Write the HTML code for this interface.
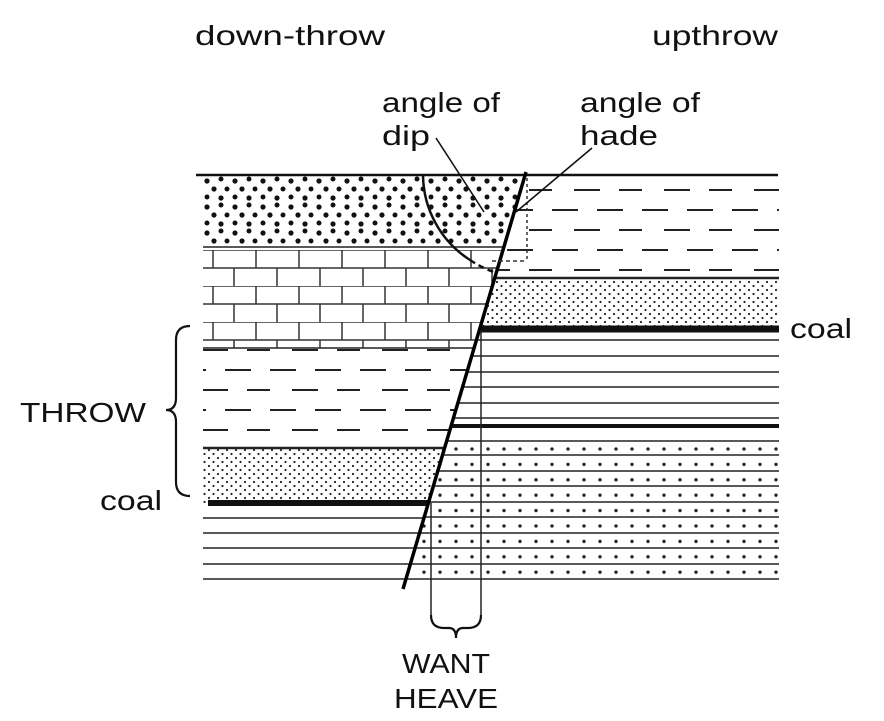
<!DOCTYPE html>
<html><head><meta charset="utf-8"><style>html,body{margin:0;padding:0;background:#fff}svg{display:block}text{font-family:"Liberation Sans",sans-serif;font-size:28px;fill:#111}</style></head>
<body>
<svg width="884" height="721" viewBox="0 0 884 721" xmlns="http://www.w3.org/2000/svg">
<defs>
<clipPath id="L"><polygon points="203,170 526,170 403,590 203,590"/></clipPath>
<clipPath id="R"><polygon points="526,170 779,170 779,590 403,590"/></clipPath>
<pattern id="cg" width="28" height="26" patternUnits="userSpaceOnUse" x="203" y="176">
<circle cx="4" cy="5" r="2.6" fill="#111"/><circle cx="18" cy="3" r="2.5" fill="#111"/><circle cx="11" cy="13" r="2.6" fill="#111"/><circle cx="24" cy="13" r="2.5" fill="#111"/><circle cx="4" cy="21" r="2.5" fill="#111"/><circle cx="18" cy="22" r="2.6" fill="#111"/></pattern>
<pattern id="sd" width="9" height="8" patternUnits="userSpaceOnUse">
<circle cx="2" cy="2" r="1.1" fill="#222"/><circle cx="6.5" cy="6" r="1.1" fill="#222"/></pattern>
<pattern id="sh" width="90" height="40" patternUnits="userSpaceOnUse">
<line x1="0" y1="10" x2="26" y2="10" stroke="#222" stroke-width="2"/><line x1="45" y1="10" x2="71" y2="10" stroke="#222" stroke-width="2"/>
<line x1="22" y1="30" x2="48" y2="30" stroke="#222" stroke-width="2"/><line x1="67" y1="30" x2="90" y2="30" stroke="#222" stroke-width="2"/></pattern>
<pattern id="br" width="43" height="36" patternUnits="userSpaceOnUse" x="203" y="250">
<line x1="0" y1="0" x2="43" y2="0" stroke="#333" stroke-width="1.5"/>
<line x1="0" y1="18" x2="43" y2="18" stroke="#333" stroke-width="1.5"/>
<line x1="10" y1="0" x2="10" y2="18" stroke="#333" stroke-width="1.5"/>
<line x1="31" y1="18" x2="31" y2="36" stroke="#333" stroke-width="1.5"/></pattern>
<pattern id="pd" width="16" height="15.4" patternUnits="userSpaceOnUse" x="400" y="441">
<circle cx="8" cy="8" r="1.7" fill="#222"/></pattern>
</defs>

<g clip-path="url(#L)">
<rect x="203" y="175" width="330" height="72" fill="url(#cg)"/>
<rect x="203" y="250" width="330" height="98" fill="url(#br)"/>
<rect x="203" y="347" width="330" height="100" fill="url(#sh)"/>
<rect x="203" y="449" width="330" height="54" fill="url(#sd)"/>
<g stroke="#222" stroke-width="1.6">
<line x1="203" y1="247" x2="530" y2="247"/><line x1="203" y1="348" x2="530" y2="348"/><line x1="203" y1="448" x2="530" y2="448" stroke-width="2.5"/>
<line x1="203" y1="518" x2="530" y2="518"/><line x1="203" y1="533" x2="530" y2="533"/><line x1="203" y1="548" x2="530" y2="548"/><line x1="203" y1="564" x2="530" y2="564"/><line x1="203" y1="579" x2="530" y2="579"/>
</g>
<line x1="208" y1="503" x2="530" y2="503" stroke="#111" stroke-width="6"/>
</g>

<g clip-path="url(#R)">
<rect x="400" y="176" width="380" height="100" fill="url(#sh)" transform="translate(12,0)"/>
<rect x="400" y="279" width="380" height="49" fill="url(#sd)"/>
<rect x="400" y="441" width="380" height="140" fill="url(#pd)"/>
<g stroke="#222" stroke-width="1.6">
<line x1="400" y1="278" x2="779" y2="278" stroke-width="2.5"/>
<line x1="400" y1="340" x2="779" y2="340"/><line x1="400" y1="356" x2="779" y2="356"/><line x1="400" y1="372" x2="779" y2="372"/><line x1="400" y1="387" x2="779" y2="387"/><line x1="400" y1="403" x2="779" y2="403"/><line x1="400" y1="418" x2="779" y2="418"/>
<line x1="400" y1="441" x2="779" y2="441"/><line x1="400" y1="455" x2="779" y2="455"/><line x1="400" y1="471" x2="779" y2="471"/><line x1="400" y1="486" x2="779" y2="486"/><line x1="400" y1="502" x2="779" y2="502"/><line x1="400" y1="517" x2="779" y2="517"/><line x1="400" y1="533" x2="779" y2="533"/><line x1="400" y1="548" x2="779" y2="548"/><line x1="400" y1="564" x2="779" y2="564"/><line x1="400" y1="579" x2="779" y2="579"/>
</g>
<line x1="400" y1="426" x2="779" y2="426" stroke="#111" stroke-width="4"/>
<line x1="400" y1="329" x2="779" y2="329" stroke="#111" stroke-width="7"/>
</g>

<line x1="196" y1="175" x2="778" y2="175" stroke="#111" stroke-width="2.5"/>
<line x1="526" y1="172" x2="403" y2="589" stroke="#000" stroke-width="3.5"/>
<path d="M423,175 A102,102 0 0 0 470,260" fill="none" stroke="#111" stroke-width="2.5"/>
<path d="M470,260 A102,102 0 0 0 497,273" fill="none" stroke="#111" stroke-width="2.5" stroke-dasharray="6,4"/>
<line x1="527" y1="178" x2="527" y2="262" stroke="#333" stroke-width="1.5" stroke-dasharray="3,3"/>
<line x1="492" y1="261" x2="527" y2="261" stroke="#333" stroke-width="1.5" stroke-dasharray="4,3"/>
<line x1="436" y1="138" x2="484" y2="212" stroke="#111" stroke-width="1.6"/>
<line x1="592" y1="148" x2="516" y2="212" stroke="#111" stroke-width="1.6"/>
<line x1="431" y1="503" x2="431" y2="615" stroke="#222" stroke-width="1.5"/>
<line x1="481" y1="330" x2="481" y2="615" stroke="#222" stroke-width="1.5"/>
<path d="M431,615 Q431,628 444,628 L449,628 Q456,628 456,638 Q456,628 463,628 L468,628 Q481,628 481,615" fill="none" stroke="#111" stroke-width="2.2"/>
<path d="M190,326 Q176,326 176,340 L176,398 Q176,410 166,410 Q176,410 176,422 L176,482 Q176,496 190,496" fill="none" stroke="#111" stroke-width="2.2"/>

<text x="195" y="45" textLength="190" lengthAdjust="spacingAndGlyphs">down-throw</text>
<text x="652" y="45" textLength="126" lengthAdjust="spacingAndGlyphs">upthrow</text>
<text x="382" y="112" textLength="118" lengthAdjust="spacingAndGlyphs">angle of</text>
<text x="382" y="145" textLength="48" lengthAdjust="spacingAndGlyphs">dip</text>
<text x="580" y="112" textLength="120" lengthAdjust="spacingAndGlyphs">angle of</text>
<text x="580" y="145" textLength="78" lengthAdjust="spacingAndGlyphs">hade</text>
<text x="790" y="338" textLength="62" lengthAdjust="spacingAndGlyphs">coal</text>
<text x="20" y="422" textLength="126" lengthAdjust="spacingAndGlyphs">THROW</text>
<text x="100" y="510" textLength="62" lengthAdjust="spacingAndGlyphs">coal</text>
<text x="402" y="673" textLength="88" lengthAdjust="spacingAndGlyphs">WANT</text>
<text x="394" y="708" textLength="104" lengthAdjust="spacingAndGlyphs">HEAVE</text>
</svg>
</body></html>
